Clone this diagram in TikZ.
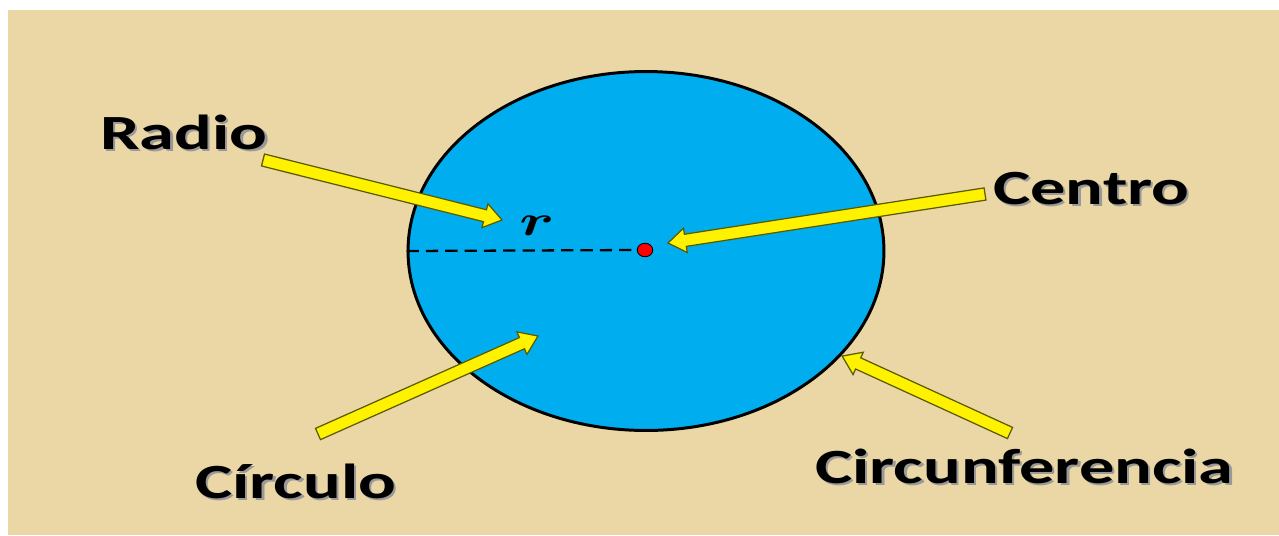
\documentclass[tikz,border=0pt]{standalone}
\usepackage{fontspec}
\setmainfont{Carlito}
\usepackage{xcolor}
\usepackage{tikz}
\usetikzlibrary{calc,positioning,shapes.geometric}

\definecolor{papel}{HTML}{EAD7A5}
\definecolor{cielo}{HTML}{00AEEF}
\definecolor{borde}{HTML}{5A5A00}

\newcommand{\ancho}[1]{\scalebox{1.43}[1]{#1}}

\begin{document}
\begin{tikzpicture}[x=0.02cm, y=-0.02cm,
  etq/.style={font=\fontsize{28}{30}\selectfont\bfseries, inner sep=0pt, anchor=base west},
  sombra/.style={etq, text=black!40, xshift=1.3pt, yshift=-1.3pt},
  circulo/.style={ellipse, draw, line width=1.7pt, fill=cielo, minimum width=9.52cm, minimum height=7.18cm, inner sep=0pt},
  punto/.style={ellipse, draw, line width=0.5pt, fill=red, minimum width=0.31cm, minimum height=0.27cm, inner sep=0pt},
  radio/.style={dash pattern=on 7pt off 4pt, line width=1.3pt},
  flecha/.style={draw=borde, fill=yellow, line width=0.7pt, line join=miter,
    to path={let \p1=(\tikztostart), \p2=(\tikztotarget),
      \n1={atan2(\y2-\y1,\x2-\x1)}, \n2={veclen(\x2-\x1,\y2-\y1)} in
      [shift={(\p1)}, rotate=\n1]
      (0pt,-3.5pt) -- (\n2-10pt,-3.5pt) -- (\n2-10pt,-7pt) -- (\n2,0pt)
      -- (\n2-10pt,7pt) -- (\n2-10pt,3.5pt) -- (0pt,3.5pt) -- cycle}}
]
\useasboundingbox (0,0) rectangle (1279,535);
\fill[papel] (8,10) rectangle (1279,535);

% ---- circulo y radio
\node[circulo] (circ) at (646,251) {};
\node[punto] (centro) at (645,250) {};
\draw[radio] (circ.west) -- (centro.west);
\node[font=\fontsize{24}{24}\selectfont] (r) at (537,226) {\ancho{\boldmath$r$}};

% ---- rotulos
\node[sombra] at (100,149) {\ancho{Radio}};
\node[etq] (lradio) at (100,149) {\ancho{Radio}};
\node[sombra] at (993,204) {\ancho{Centro}};
\node[etq] (lcentro) at (993,204) {\ancho{Centro}};
\node[sombra] at (195,498) {\ancho{Círculo}};
\node[etq] (lcirculo) at (195,498) {\ancho{Círculo}};
\node[sombra] at (815,483) {\ancho{Circunferencia}};
\node[etq] (lcircunf) at (815,483) {\ancho{Circunferencia}};

% ---- flechas
\coordinate (c1) at (263,160); \coordinate (p1) at (502,220);
\coordinate (c2) at (985,194); \coordinate (p2) at (668,243);
\coordinate (c3) at (318,434); \coordinate (p3) at (538,336);
\coordinate (c4) at (1010,433); \coordinate (p4) at (842,356);
\draw[flecha] (c1) to (p1);
\draw[flecha] (c2) to (p2);
\draw[flecha] (c3) to (p3);
\draw[flecha] (c4) to (p4);
\end{tikzpicture}
\end{document}
